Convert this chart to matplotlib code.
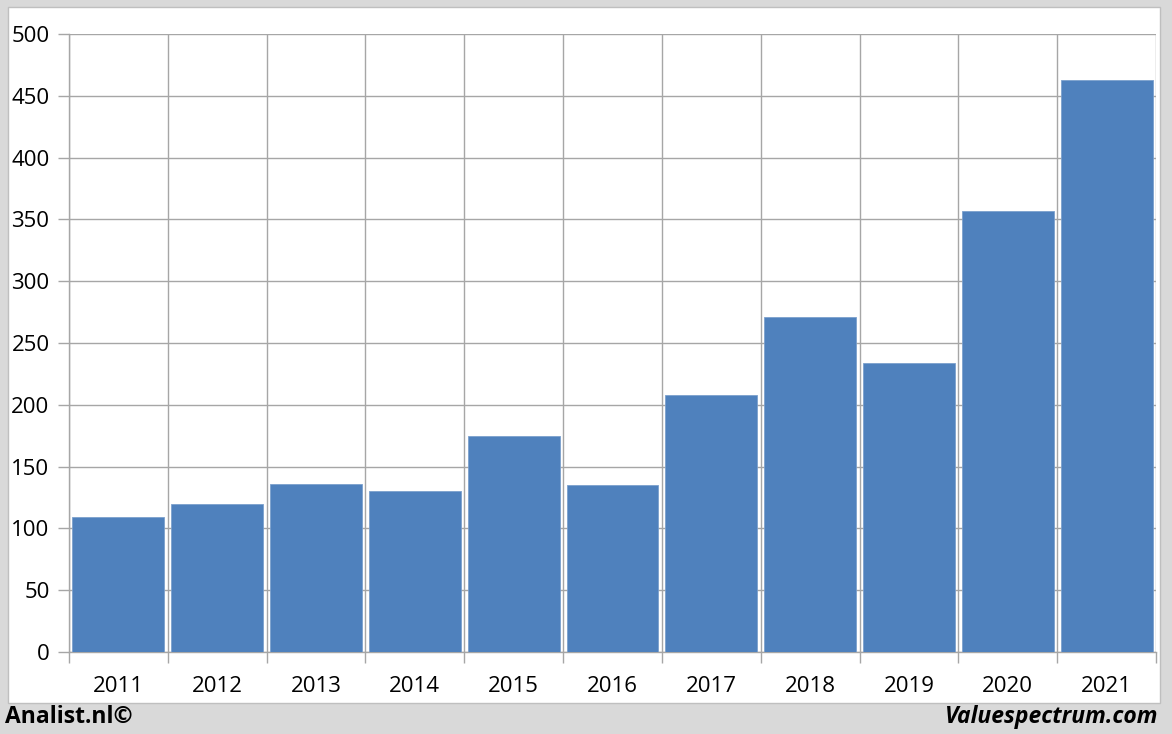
import matplotlib.pyplot as plt
from matplotlib.patches import Rectangle
import numpy as np

# Data
years = ["2011", "2012", "2013", "2014", "2015", "2016",
         "2017", "2018", "2019", "2020", "2021"]
values = [109, 120, 136, 130, 175, 135, 208, 271, 234, 357, 463]
y_ticks = [0, 50, 100, 150, 200, 250, 300, 350, 400, 450, 500]

W, H = 1172, 734
fig = plt.figure(figsize=(W / 100, H / 100), dpi=100)
fig.patch.set_facecolor("#D9D9D9")

# white panel
fig.patches.append(Rectangle((8 / W, (H - 703) / H), (1160 - 8) / W, (703 - 7) / H,
                             transform=fig.transFigure, facecolor="white",
                             edgecolor="#BFBFBF", linewidth=1, zorder=-1))

ax = fig.add_axes([69 / W, (H - 652) / H, (1156 - 69) / W, (652 - 34) / H])
ax.set_zorder(2)
ax.set_facecolor("white")

x = np.arange(len(years))
ax.bar(x, values, width=0.93, color="#4F81BD", edgecolor="#7BA0CD",
       linewidth=0.6, zorder=3)

ax.set_xlim(-0.5, len(years) - 0.5)
ax.set_ylim(0, 500)

grid_c = "#A6A6A6"
ax.set_yticks(y_ticks)
ax.set_xticks(x)
ax.set_xticklabels(years)
ax.set_xticks(np.arange(len(years) + 1) - 0.5, minor=True)

ax.grid(axis="y", which="major", color=grid_c, linewidth=1, zorder=0)
ax.grid(axis="x", which="minor", color=grid_c, linewidth=1, zorder=0)

ax.tick_params(axis="x", which="major", length=0, pad=17, labelsize=16)
ax.tick_params(axis="x", which="minor", length=8, color=grid_c, width=1)
ax.tick_params(axis="y", length=8, color=grid_c, width=1, pad=6, labelsize=16)

for s in ["top", "right"]:
    ax.spines[s].set_visible(False)
for s in ["left", "bottom"]:
    ax.spines[s].set_color(grid_c)
    ax.spines[s].set_linewidth(1)

for lab in ax.get_xticklabels() + ax.get_yticklabels():
    lab.set_family(["Open Sans", "DejaVu Sans"])

fig.text(5 / W, 1 - 717 / H, "Analist.nl©", fontsize=16.5, fontweight="bold",
         family=["Open Sans", "DejaVu Sans"], ha="left", va="center")
fig.text(1158 / W, 1 - 717 / H, "Valuespectrum.com", fontsize=16.5,
         fontweight="bold", style="italic",
         family=["Open Sans", "DejaVu Sans"], ha="right", va="center")

fig.savefig("out.png", dpi=100, facecolor=fig.get_facecolor())
